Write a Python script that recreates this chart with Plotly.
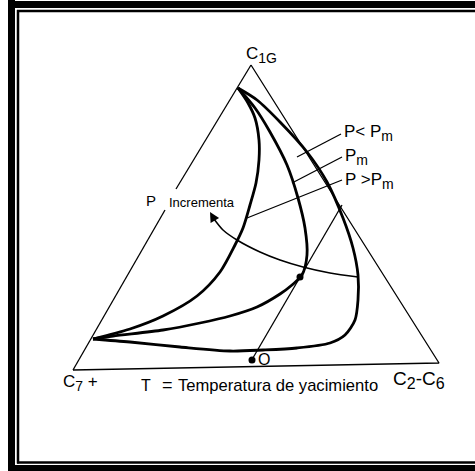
import plotly.graph_objects as go

# Triangle (C7+ / C1G / C2-C6) edges, in drawing units (pixels of the figure)
tri_left_x = [73, 165]
tri_left_y = [370, 210]
tri_left2_x = [176, 251]
tri_left2_y = [189, 65]
tri_right_x = [251, 439, 73]
tri_right_y = [65, 363, 370]

# Phase envelopes
curve_a_x = [238, 248, 255, 259, 259, 256, 250, 243, 235, 220, 197, 163, 130, 93]
curve_a_y = [88, 103, 118, 140, 160, 183, 205, 228, 245, 272, 296, 316, 329, 339]
curve_b_x = [238, 255, 270, 287, 298, 305, 307, 302, 292, 280, 257, 230, 200, 163, 113, 93]
curve_b_y = [88, 108, 132, 165, 198, 228, 255, 275, 285, 294, 307, 316, 323, 330, 336, 339]
curve_c_x = [238, 257, 280, 307, 327, 343, 353, 358, 358, 355, 345, 330, 297, 263, 230, 180, 130, 93]
curve_c_y = [88, 100, 122, 152, 182, 218, 248, 275, 300, 320, 335, 343, 348, 350, 351, 347, 342, 339]

# Straight line from O through the critical point
line_o_x = [250, 342]
line_o_y = [363, 205]

# "P Incrementa" arc
arc_x = [358, 330, 303, 280, 260, 237, 223, 214]
arc_y = [277, 273, 267, 260, 252, 240, 230, 219]

# Leader lines for the labels
lead1_x = [341, 297]
lead1_y = [134, 157]
lead2_x = [342, 292]
lead2_y = [157, 183]
lead3_x = [342, 247]
lead3_y = [180, 218]

dot_x = [300, 252]
dot_y = [277, 360]

fig = go.Figure()

thin = dict(color="black", width=1.3)

for xs, ys in [(tri_left_x, tri_left_y), (tri_left2_x, tri_left2_y),
               (tri_right_x, tri_right_y), (line_o_x, line_o_y),
               (lead1_x, lead1_y), (lead2_x, lead2_y), (lead3_x, lead3_y)]:
    fig.add_trace(go.Scatter(x=xs, y=ys, mode="lines", line=thin,
                             showlegend=False, hoverinfo="skip"))

for xs, ys in [(curve_a_x, curve_a_y), (curve_b_x, curve_b_y), (curve_c_x, curve_c_y)]:
    fig.add_trace(go.Scatter(x=xs, y=ys, mode="lines",
                             line=dict(color="black", width=2.8, shape="spline", smoothing=0.8),
                             showlegend=False, hoverinfo="skip"))

fig.add_trace(go.Scatter(x=arc_x, y=arc_y, mode="lines",
                         line=dict(color="black", width=1.5, shape="spline", smoothing=0.8),
                         showlegend=False, hoverinfo="skip"))

fig.add_trace(go.Scatter(x=dot_x, y=dot_y, mode="markers",
                         marker=dict(size=7, color="black"),
                         showlegend=False, hoverinfo="skip"))

# arrow head at the end of the arc
fig.add_annotation(x=arc_x[-1] - 4, y=arc_y[-1] - 7, ax=arc_x[-1], ay=arc_y[-1],
                   xref="x", yref="y", axref="x", ayref="y", text="",
                   showarrow=True, arrowhead=2, arrowsize=1.3, arrowwidth=1.5,
                   arrowcolor="black")

fam = "Liberation Sans, Arial"
sub = "<sub><span style='font-size:14px'>%s</span></sub>"
sub6 = "<sub><span style='font-size:16px'>%s</span></sub>"
labels = [
    (244, 55, "C" + sub % "1G", 17),
    (61, 383, "C" + sub % "7" + " +", 17),
    (391, 380, "C" + sub6 % "2" + "-C" + sub6 % "6", 19),
    (139, 385, "T", 16),
    (160, 385, "=", 18),
    (176, 385, "Temperatura de yacimiento", 16.6),
    (342, 133, "P&lt; P" + sub % "m", 17),
    (343, 157, "P" + sub % "m", 17),
    (343, 181, "P &gt;P" + sub % "m", 17),
    (144, 200, "P", 15),
    (167, 202, "Incrementa", 13),
    (256, 359, "O", 16),
]
for x, y, t, s in labels:
    fig.add_annotation(x=x, y=y, text=t, showarrow=False, xref="x", yref="y",
                       xanchor="left", yanchor="middle",
                       font=dict(family=fam, size=s, color="black"))

# double frame: left, top and bottom sides (right side lies outside the picture)
frame = [
    (11.5, 0, 11.5, 471, 7), (8, 4.5, 600, 4.5, 7), (8, 468.5, 600, 468.5, 7),
    (18, 10, 18, 463.5, 2.5), (17, 11, 600, 11, 2.5), (17, 462.5, 600, 462.5, 2.5),
]
for x0, y0, x1, y1, w in frame:
    fig.add_shape(type="line", x0=x0, y0=y0, x1=x1, y1=y1, xref="x", yref="y",
                  line=dict(color="black", width=w))

fig.update_layout(
    width=475, height=471,
    margin=dict(l=0, r=0, t=0, b=0),
    plot_bgcolor="white", paper_bgcolor="white",
    xaxis=dict(range=[0, 475], visible=False, fixedrange=True),
    yaxis=dict(range=[471, 0], visible=False, fixedrange=True),
)

fig.write_html(
    "out.html", config={"displayModeBar": False},
    post_script="document.body.style.margin='0';document.body.style.overflow='hidden';"
                "document.documentElement.style.overflow='hidden';")
